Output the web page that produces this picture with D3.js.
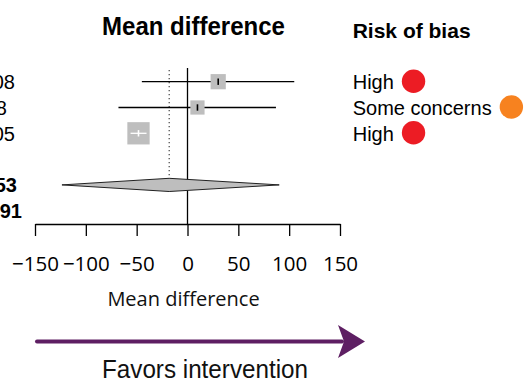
<!DOCTYPE html>
<html>
<head>
<meta charset="utf-8">
<script src="https://cdn.jsdelivr.net/npm/d3@7"></script>
<style>
  html, body { margin: 0; padding: 0; background: #fff; }
  svg { display: block; }
</style>
</head>
<body>
<div class="chart"></div>
<script>
var w = 524, h = 383;

// studies
var estimates = [30.2, 9.8, -48.2],
	lower = [-44.9, -67.9, -56.0],
	upper = [105.0, 87.0, -40.3],
	weights = [24.9, 21.7, 53.4];

// pooled estimate
var pooled = { est: -18.0, lo: -123.5, hi: 90.2 };

// left table column, only its last digits show at the edge
var leftLabels = ["0.08", "0.78", "0.05", "0.53", "0.91"],
	leftBold = [false, false, false, true, true],
	leftEnds = [15, 7, 15, 17, 22];

var bias = ["High", "Some concerns", "High"];
var biasColor = { "High": "#ec1c24", "Some concerns": "#f7821f" };

var ticks = [-150, -100, -50, 0, 50, 100, 150];

var x = d3.scaleLinear().domain([-150, 150]).range([35, 340]);
var row = function(i) { return 81.7 + i * 25.8; };

var svg = d3.select('.chart').append('svg')
			.attr('width', w)
			.attr('height', h);

var sans = "'Liberation Sans', Arial, sans-serif";

// titles
svg.append('text')
	.attr('x', 193.5).attr('y', 35)
	.attr('text-anchor', 'middle')
	.attr('font-family', sans).attr('font-weight', 'bold')
	.attr('font-size', 25)
	.attr('textLength', 183).attr('lengthAdjust', 'spacingAndGlyphs')
	.text('Mean difference');

svg.append('text')
	.attr('x', 352.7).attr('y', 38)
	.attr('font-family', sans).attr('font-weight', 'bold')
	.attr('font-size', 21)
	.text('Risk of bias');

// left table column (cut off at the edge)
svg.selectAll('text.left')
	.data(leftLabels)
	.enter().append('text')
	.attr('class', 'left')
	.attr('x', function(d, i) { return leftEnds[i]; })
	.attr('y', function(d, i) { return row(i < 3 ? i : i + 1) + 7.5; })
	.attr('text-anchor', 'end')
	.attr('font-family', sans)
	.attr('font-size', 20)
	.attr('font-weight', function(d, i) { return leftBold[i] ? 'bold' : 'normal'; })
	.text(function(d) { return d; });

// reference lines
svg.append('line')
	.attr('x1', x(0)).attr('x2', x(0))
	.attr('y1', 68).attr('y2', 224)
	.attr('stroke', '#000').attr('stroke-width', 1.3);

svg.append('line')
	.attr('x1', x(pooled.est)).attr('x2', x(pooled.est))
	.attr('y1', 70).attr('y2', 179)
	.attr('stroke', '#444').attr('stroke-width', 1.2)
	.attr('stroke-dasharray', '1.2,2.8');

// studies
var side = function(wt) { return 3.05 * Math.sqrt(wt); };

var study = svg.selectAll('g.study')
	.data(estimates)
	.enter().append('g')
	.attr('class', 'study');

study.append('line')
	.attr('x1', function(d, i) { return x(lower[i]); })
	.attr('x2', function(d, i) { return x(upper[i]); })
	.attr('y1', function(d, i) { return row(i); })
	.attr('y2', function(d, i) { return row(i); })
	.attr('stroke', '#000').attr('stroke-width', 1.3);

study.append('rect')
	.attr('x', function(d, i) { return x(d) - side(weights[i]) / 2; })
	.attr('y', function(d, i) { return row(i) - side(weights[i]) / 2; })
	.attr('width', function(d, i) { return side(weights[i]); })
	.attr('height', function(d, i) { return side(weights[i]); })
	.attr('fill', '#bebebe');

// CI inside the box is drawn white
var inside = function(i) {
	var s = side(weights[i]) / 2;
	return x(lower[i]) > x(estimates[i]) - s && x(upper[i]) < x(estimates[i]) + s;
};

study.each(function(d, i) {
	if (!inside(i)) return;
	d3.select(this).append('line')
		.attr('x1', x(lower[i])).attr('x2', x(upper[i]))
		.attr('y1', row(i)).attr('y2', row(i))
		.attr('stroke', '#fff').attr('stroke-width', 1.3);
});

study.append('line')
	.attr('x1', function(d) { return x(d); })
	.attr('x2', function(d) { return x(d); })
	.attr('y1', function(d, i) { return row(i) - 3.2; })
	.attr('y2', function(d, i) { return row(i) + 3.2; })
	.attr('stroke', function(d, i) { return inside(i) ? '#fff' : '#000'; })
	.attr('stroke-width', 1.6);

// pooled diamond
var yd = row(4), dh = 6.6;
svg.append('path')
	.attr('d', 'M' + [x(pooled.lo), yd] + 'L' + [x(pooled.est), yd - dh] +
		'L' + [x(pooled.hi), yd] + 'L' + [x(pooled.est), yd + dh] + 'Z')
	.attr('fill', '#bebebe')
	.attr('stroke', '#222').attr('stroke-width', 1);

// risk of bias legend
var legend = svg.selectAll('g.rob')
	.data(bias)
	.enter().append('g')
	.attr('class', 'rob');

legend.append('text')
	.attr('x', 352.7)
	.attr('y', function(d, i) { return row(i) + 7.2; })
	.attr('font-family', sans)
	.attr('font-size', 20)
	.text(function(d) { return d; });

legend.append('circle')
	.attr('cx', function(d) {
		return 352.7 + this.parentNode.querySelector('text').getComputedTextLength() + 8 + 11.7;
	})
	.attr('cy', function(d, i) { return row(i) - 0.5; })
	.attr('r', 11.7)
	.attr('fill', function(d) { return biasColor[d]; });

// axis
var axis = svg.append('g')
	.attr('transform', 'translate(0,224)')
	.call(d3.axisBottom(x).tickValues(ticks).tickSize(12).tickSizeOuter(0)
		.tickFormat(function(d) { return d < 0 ? '−' + Math.abs(d) : d; }));

axis.select('.domain').attr('stroke', '#000').attr('stroke-width', 1.3);
axis.selectAll('.tick line').attr('stroke', '#000').attr('stroke-width', 1.3);
axis.selectAll('.tick text')
	.attr('y', 47).attr('dy', null)
	.attr('fill', '#000')
	.attr('font-family', "'Open Sans', sans-serif")
	.attr('font-size', 20.5);

svg.append('text')
	.attr('x', 183.5).attr('y', 306)
	.attr('text-anchor', 'middle')
	.attr('font-family', "'Open Sans', sans-serif")
	.attr('font-size', 20)
	.attr('fill', '#111')
	.text('Mean difference');

// favours arrow
var purple = '#5e1f63';
svg.append('line')
	.attr('x1', 37).attr('x2', 342)
	.attr('y1', 341.5).attr('y2', 341.5)
	.attr('stroke', purple).attr('stroke-width', 4)
	.attr('stroke-linecap', 'round');

svg.append('path')
	.attr('d', 'M338,325L365,341.5L338,358L344,341.5Z')
	.attr('fill', purple);

svg.append('text')
	.attr('x', 205).attr('y', 378)
	.attr('text-anchor', 'middle')
	.attr('font-family', "'Liberation Sans Narrow', 'Liberation Sans', sans-serif")
	.attr('font-size', 25)
	.attr('fill', '#111')
	.attr('textLength', 206).attr('lengthAdjust', 'spacingAndGlyphs')
	.text('Favors intervention');
</script>
</body>
</html>
